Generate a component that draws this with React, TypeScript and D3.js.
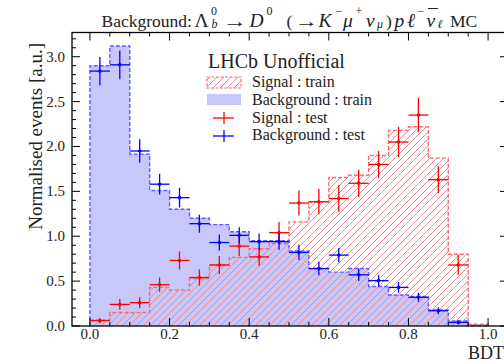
import React from "react";
import * as d3 from "d3";

// Bin lower edges of the BDT histograms (width 0.05)
const binLow = [0, 0.05, 0.1, 0.15, 0.2, 0.25, 0.3, 0.35, 0.4, 0.45, 0.5, 0.55, 0.6, 0.65, 0.7, 0.75, 0.8, 0.85, 0.9, 0.95];
const binWidth = 0.05;

// Training samples (normalised)
const sigTrain = [0.067, 0.15, 0.15, 0.43, 0.4, 0.53, 0.68, 0.765, 0.86, 0.92, 1.16, 1.385, 1.655, 1.68, 1.9, 2.18, 2.22, 1.87, 0.8, 0.02];
const bkgTrain = [2.9, 3.12, 1.915, 1.51, 1.3, 1.2, 1.13, 1.05, 0.95, 0.95, 0.835, 0.64, 0.6, 0.64, 0.44, 0.345, 0.33, 0.18, 0.055, 0.005];

// Test samples with uncertainties (null = empty bin)
const sigTest = [0.06, 0.24, 0.26, 0.46, 0.73, 0.54, 0.68, 0.89, 0.77, 1.04, 1.37, 1.385, 1.42, 1.59, 1.8, 2.05, 2.35, 1.63, 0.68, null];
const sigTestErr = [0.03, 0.06, 0.06, 0.08, 0.1, 0.09, 0.1, 0.11, 0.1, 0.12, 0.14, 0.14, 0.15, 0.15, 0.15, 0.17, 0.19, 0.15, 0.11, 0];
const bkgTest = [2.84, 2.91, 1.95, 1.58, 1.43, 1.14, 0.93, 1.01, 0.94, 0.94, 0.82, 0.64, 0.79, 0.57, 0.505, 0.43, 0.32, 0.17, 0.04, null];
const bkgTestErr = [0.157, 0.16, 0.13, 0.115, 0.11, 0.1, 0.09, 0.09, 0.09, 0.09, 0.085, 0.075, 0.08, 0.07, 0.065, 0.06, 0.05, 0.04, 0.02, 0];

const xTicks = [0, 0.2, 0.4, 0.6, 0.8, 1.0];
const xTickLabels = ["0.0", "0.2", "0.4", "0.6", "0.8", "1.0"];
const yTicks = [0, 0.5, 1.0, 1.5, 2.0, 2.5, 3.0];
const yTickLabels = ["0.0", "0.5", "1.0", "1.5", "2.0", "2.5", "3.0"];

const W = 504;
const H = 364;
const left = 72;
const right = 508;
const top = 32.5;
const bottom = 326;

const FONT = "'Liberation Serif', 'Times New Roman', serif";

const BLUE_FILL = "#c7c7f9";
const BLUE_LINE = "#5e5eff";
const RED_LINE = "#ff6b6b";
const RED_HATCH = "#f07f86";

// Title pieces laid out in the ROOT-TLatex style.
// k: "n" plain text, "m" math symbol, "sup"/"sub" scripts; w forces a glyph width.
type Piece = { t: string; x: number; k: "n" | "m" | "sup" | "sub"; it?: boolean; w?: number };
const titlePieces: Piece[] = [
  { t: "Background:", x: 101.5, k: "n" },
  { t: "Λ", x: 194.5, k: "m" },
  { t: "0", x: 211, k: "sup" },
  { t: "b", x: 211.5, k: "sub", it: true },
  { t: "→", x: 222.5, k: "n", w: 24.5 },
  { t: "D", x: 249.5, k: "m", it: true },
  { t: "0", x: 266.5, k: "sup" },
  { t: "(", x: 286.5, k: "n" },
  { t: "→", x: 294.5, k: "n", w: 23.5 },
  { t: "K", x: 318.5, k: "m", it: true },
  { t: "−", x: 335.5, k: "sup" },
  { t: "μ", x: 343, k: "m", it: true },
  { t: "+", x: 355.5, k: "sup" },
  { t: "ν", x: 366, k: "m", it: true },
  { t: "μ", x: 377, k: "sub", it: true },
  { t: ")", x: 386, k: "n" },
  { t: "p", x: 394.5, k: "m", it: true },
  { t: "ℓ", x: 407, k: "m", it: true },
  { t: "−", x: 417.5, k: "sup" },
  { t: "ν", x: 426.5, k: "m", it: true },
  { t: "ℓ", x: 437.5, k: "sub", it: true },
  { t: "MC", x: 450, k: "n" },
];
const titleSize = { n: 17.5, m: 19.5, sup: 12, sub: 12 };
const titleBase = { n: 26.5, m: 26.5, sup: 15, sub: 28 };

export default function App() {
  const x = d3.scaleLinear().domain([-0.045, 1.05]).range([left, right]);
  const y = d3.scaleLinear().domain([0, 3.27]).range([bottom, top]);

  const stepPoints = (vals: number[]): [number, number][] => {
    const pts: [number, number][] = [[x(binLow[0]), y(0)]];
    vals.forEach((v, i) => {
      pts.push([x(binLow[i]), y(v)]);
      pts.push([x(binLow[i] + binWidth), y(v)]);
    });
    pts.push([x(binLow[binLow.length - 1] + binWidth), y(0)]);
    return pts;
  };
  const line = d3.line<[number, number]>();
  const bkgPath = line(stepPoints(bkgTrain)) || "";
  const sigPath = line(stepPoints(sigTrain)) || "";

  const xMinor = d3.range(0, 21).map((i) => i * 0.05).filter((v) => !xTicks.some((t) => Math.abs(t - v) < 1e-6));
  const yMinor = d3.range(0, 33).map((i) => i * 0.1).filter((v) => !yTicks.some((t) => Math.abs(t - v) < 1e-6));

  const markers = (vals: (number | null)[], errs: number[], color: string) =>
    vals.map((v, i) => {
      if (v === null) return null;
      const cx = x(binLow[i] + binWidth / 2);
      return (
        <g key={i} stroke={color} strokeWidth={1.3}>
          <line x1={x(binLow[i])} x2={x(binLow[i] + binWidth)} y1={y(v)} y2={y(v)} />
          <line x1={cx} x2={cx} y1={y(v - errs[i])} y2={y(v + errs[i])} />
          <circle cx={cx} cy={y(v)} r={1.8} fill={color} stroke="none" />
        </g>
      );
    });

  // legend geometry
  const lgX = 207;
  const lgTxt = 252;
  const rows = [86.5, 104.5, 122.5, 140];

  return (
    <svg
      width={W}
      height={H}
      viewBox={`0 0 ${W} ${H}`}
      style={{ position: "fixed", left: 0, top: 0, background: "#fff" }}
      fontFamily={FONT}
    >
      <defs>
        <pattern id="hatch" patternUnits="userSpaceOnUse" width={7} height={7}>
          <path d="M-1,1 L1,-1 M0,7 L7,0 M6,8 L8,6" stroke={RED_HATCH} strokeWidth={0.9} />
        </pattern>
      </defs>
      <rect width={W} height={H} fill="#fff" />

      {/* background training histogram */}
      <path d={bkgPath + "Z"} fill={BLUE_FILL} stroke="none" />
      {/* signal training histogram, hatched */}
      <path d={sigPath + "Z"} fill="url(#hatch)" stroke="none" />
      <path d={sigPath} fill="none" stroke={RED_LINE} strokeWidth={1.4} strokeDasharray="4,2" />
      <path d={bkgPath} fill="none" stroke={BLUE_LINE} strokeWidth={1.4} strokeDasharray="4,2" />

      {/* test samples */}
      {markers(sigTest, sigTestErr, "#ff0000")}
      {markers(bkgTest, bkgTestErr, "#0000ff")}

      {/* frame */}
      <rect x={left} y={top} width={right - left} height={bottom - top} fill="none" stroke="#000" strokeWidth={1.3} />

      {/* ticks on all four sides, pointing inward */}
      <g stroke="#000" strokeWidth={1}>
        {xTicks.map((t) => (
          <g key={"xt" + t}>
            <line x1={x(t)} x2={x(t)} y1={bottom} y2={bottom - 8} />
            <line x1={x(t)} x2={x(t)} y1={top} y2={top + 8} />
          </g>
        ))}
        {xMinor.map((t) => (
          <g key={"xm" + t}>
            <line x1={x(t)} x2={x(t)} y1={bottom} y2={bottom - 4} />
            <line x1={x(t)} x2={x(t)} y1={top} y2={top + 4} />
          </g>
        ))}
        {yTicks.map((t) => (
          <g key={"yt" + t}>
            <line x1={left} x2={left + 8} y1={y(t)} y2={y(t)} />
            <line x1={right} x2={right - 8} y1={y(t)} y2={y(t)} />
          </g>
        ))}
        {yMinor.map((t) => (
          <g key={"ym" + t}>
            <line x1={left} x2={left + 4} y1={y(t)} y2={y(t)} />
            <line x1={right} x2={right - 4} y1={y(t)} y2={y(t)} />
          </g>
        ))}
      </g>

      {/* tick labels */}
      <g fontSize={15} fill="#222">
        {xTicks.map((t, i) => (
          <text key={"xl" + t} x={x(t)} y={339} textAnchor="middle">
            {xTickLabels[i]}
          </text>
        ))}
        {yTicks.map((t, i) => (
          <text key={"yl" + t} x={65} y={y(t) + 5} textAnchor="end">
            {yTickLabels[i]}
          </text>
        ))}
      </g>

      {/* axis titles */}
      <text x={468} y={359} fontSize={18} fill="#222">
        BDT
      </text>
      <text transform="translate(42,43) rotate(-90)" textAnchor="end" fontSize={19} fill="#222">
        Normalised events [a.u.]
      </text>

      {/* title */}
      <g fill="#222">
        {titlePieces.map((p, i) => (
          <text
            key={"tp" + i}
            x={p.x}
            y={titleBase[p.k]}
            fontSize={titleSize[p.k]}
            fontStyle={p.it ? "italic" : "normal"}
            textLength={p.w}
            lengthAdjust={p.w ? "spacingAndGlyphs" : undefined}
          >
            {p.t}
          </text>
        ))}
        {/* bar over the antineutrino */}
        <line x1={428} x2={438} y1={8.5} y2={8.5} stroke="#222" strokeWidth={1} />
      </g>

      {/* legend */}
      <text x={208} y={68} fontSize={20} fill="#222">
        LHCb Unofficial
      </text>
      <rect x={lgX} y={77} width={34} height={11} fill="url(#hatch)" stroke={RED_LINE} strokeWidth={1.2} strokeDasharray="3,1.5" />
      <rect x={lgX} y={94} width={34} height={11} fill={BLUE_FILL} />
      <g stroke="#ff0000" strokeWidth={1.3}>
        <line x1={lgX + 6} x2={lgX + 27} y1={118} y2={118} />
        <line x1={lgX + 17} x2={lgX + 17} y1={112} y2={124} />
      </g>
      <g stroke="#0000ff" strokeWidth={1.3}>
        <line x1={lgX + 6} x2={lgX + 27} y1={136} y2={136} />
        <line x1={lgX + 17} x2={lgX + 17} y1={130} y2={142} />
      </g>
      <g fontSize={16} fill="#222">
        <text x={lgTxt} y={rows[0]}>Signal : train</text>
        <text x={lgTxt} y={rows[1]}>Background : train</text>
        <text x={lgTxt} y={rows[2]}>Signal : test</text>
        <text x={lgTxt} y={rows[3]}>Background : test</text>
      </g>
    </svg>
  );
}
